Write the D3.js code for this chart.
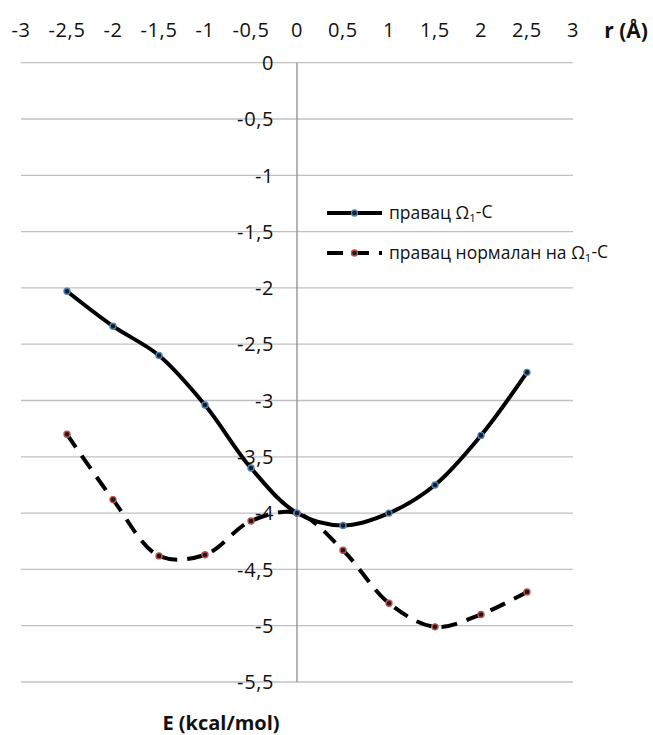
<!DOCTYPE html>
<html>
<head>
<meta charset="utf-8">
<script src="https://cdn.jsdelivr.net/npm/d3@7"></script>
<style>
  html, body { margin: 0; padding: 0; background: #fff; }
  svg { display: block; }
</style>
</head>
<body>
<div id="chart"></div>
<script>
// ---- data ----
const rValues = [-2.5, -2, -1.5, -1, -0.5, 0, 0.5, 1, 1.5, 2, 2.5];
const energyAlong = [-2.03, -2.34, -2.60, -3.04, -3.60, -4.00, -4.11, -4.00, -3.75, -3.31, -2.75];
const energyNormal = [-3.30, -3.88, -4.38, -4.37, -4.07, -4.00, -4.33, -4.80, -5.01, -4.90, -4.70];
const xTicks = [-3, -2.5, -2, -1.5, -1, -0.5, 0, 0.5, 1, 1.5, 2, 2.5, 3];
const yTicks = [0, -0.5, -1, -1.5, -2, -2.5, -3, -3.5, -4, -4.5, -5, -5.5];
const seriesNames = ["правац Ω", "правац нормалан на Ω"];
const xTitle = "r (Å)";
const yTitle = "E (kcal/mol)";

const W = 653, H = 735;
const svg = d3.select("#chart").append("svg").attr("width", W).attr("height", H);

const x = d3.scaleLinear().domain([-3, 3]).range([21, 573]);
const y = d3.scaleLinear().domain([0, -5.5]).range([62.7, 682]);
const fmt = d => String(d).replace(".", ",");
const font = "'Open Sans', 'Noto Sans', sans-serif";
const txtCol = "#111";

// horizontal gridlines
svg.append("g").selectAll("line").data(yTicks).join("line")
  .attr("x1", x(-3)).attr("x2", x(3))
  .attr("y1", d => y(d)).attr("y2", d => y(d))
  .attr("stroke", "#c0c0c0").attr("stroke-width", 1.3);

// vertical axis line at x=0
svg.append("line")
  .attr("x1", x(0)).attr("x2", x(0))
  .attr("y1", y(0)).attr("y2", y(-5.5))
  .attr("stroke", "#8c8c8c").attr("stroke-width", 1.3);

// y tick labels
svg.append("g").selectAll("text").data(yTicks).join("text")
  .attr("x", x(0) - 23).attr("y", d => y(d))
  .attr("dy", "0.36em")
  .attr("text-anchor", "end")
  .attr("font-family", font).attr("font-size", 20)
  .attr("letter-spacing", "0.6px")
  .attr("fill", txtCol)
  .text(fmt);

// x tick labels on top
svg.append("g").selectAll("text").data(xTicks).join("text")
  .attr("x", d => x(d)).attr("y", 30)
  .attr("dy", "0.36em")
  .attr("text-anchor", "middle")
  .attr("font-family", font).attr("font-size", 20)
  .attr("letter-spacing", "0.6px")
  .attr("fill", txtCol)
  .text(fmt);

// axis titles
svg.append("text").attr("x", 626).attr("y", 30).attr("dy", "0.36em")
  .attr("text-anchor", "middle")
  .attr("font-family", font).attr("font-size", 21).attr("font-weight", "bold")
  .attr("fill", txtCol).text(xTitle);
svg.append("text").attr("x", 221).attr("y", 723).attr("dy", "0.36em")
  .attr("text-anchor", "middle")
  .attr("font-family", font).attr("font-size", 20).attr("font-weight", "bold")
  .attr("fill", txtCol).text(yTitle);

// lines
const line = d3.line()
  .x((d, i) => x(rValues[i]))
  .y(d => y(d))
  .curve(d3.curveCatmullRom.alpha(0.5));

svg.append("path").attr("d", line(energyNormal))
  .attr("fill", "none").attr("stroke", "#000").attr("stroke-width", 4)
  .attr("stroke-dasharray", "16,10");
svg.append("path").attr("d", line(energyAlong))
  .attr("fill", "none").attr("stroke", "#000").attr("stroke-width", 4);

// markers
function markers(vals, col) {
  svg.append("g").selectAll("circle").data(vals).join("circle")
    .attr("cx", (d, i) => x(rValues[i])).attr("cy", d => y(d))
    .attr("r", 3)
    .attr("fill", "#1b1b1b").attr("stroke", col).attr("stroke-width", 1.4);
}
markers(energyNormal, "#c0504d");
markers(energyAlong, "#4f81bd");

// legend
const legend = [
  { name: seriesNames[0], dash: null, col: "#4f81bd", yy: 213 },
  { name: seriesNames[1], dash: "16,10", col: "#c0504d", yy: 253 }
];
legend.forEach(l => {
  const g = svg.append("g");
  g.append("line").attr("x1", 327).attr("x2", 382).attr("y1", l.yy).attr("y2", l.yy)
    .attr("stroke", "#000").attr("stroke-width", 4)
    .attr("stroke-dasharray", l.dash);
  g.append("circle").attr("cx", 354.5).attr("cy", l.yy).attr("r", 3)
    .attr("fill", "#1b1b1b").attr("stroke", l.col).attr("stroke-width", 1.4);
  const t = g.append("text").attr("x", 389).attr("y", l.yy).attr("dy", "0.36em")
    .attr("font-family", font).attr("font-size", 17.5).attr("fill", txtCol);
  t.append("tspan").text(l.name);
  t.append("tspan").attr("font-size", 11.5).attr("dy", "0.25em").text("1");
  t.append("tspan").attr("dy", "-0.25em").text("-C");
});
</script>
</body>
</html>
